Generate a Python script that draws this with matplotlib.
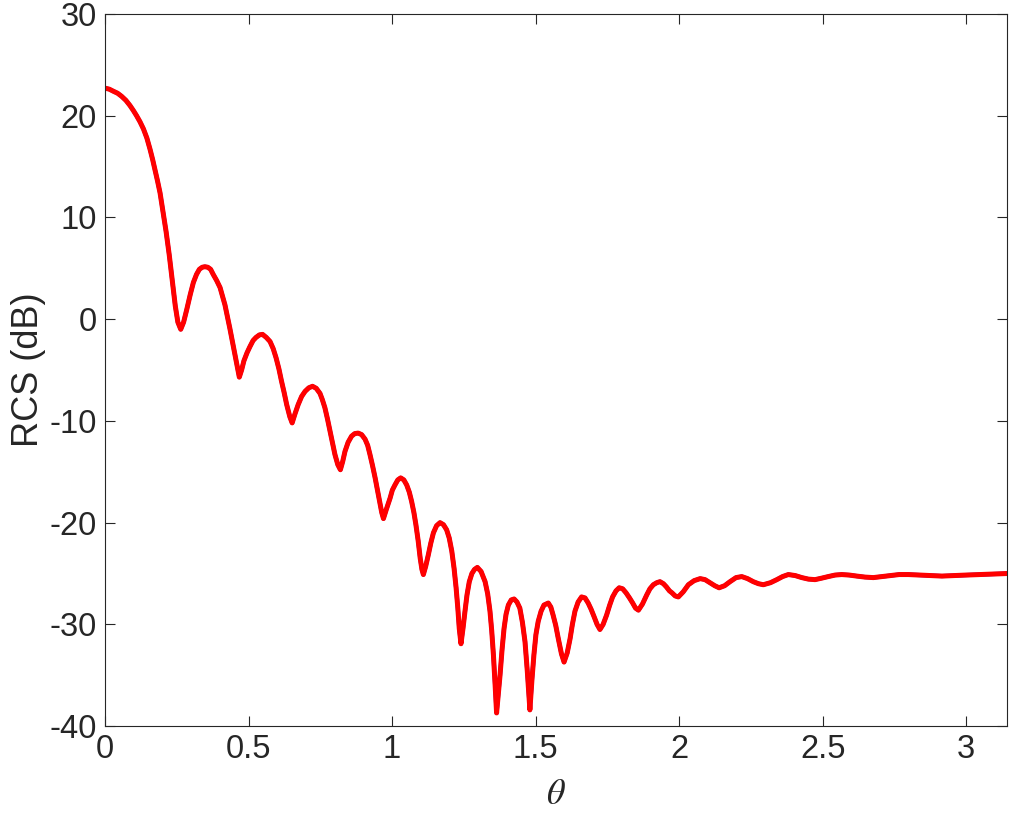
import matplotlib
matplotlib.use('Agg')
import matplotlib.pyplot as plt
import numpy as np

# RCS curve (theta in rad, RCS in dB)
theta = [0.000, 0.015, 0.029, 0.044, 0.058, 0.073, 0.087, 0.099, 0.110, 0.122,
         0.134, 0.146, 0.157, 0.166, 0.174, 0.183, 0.192, 0.202, 0.213, 0.224,
         0.235, 0.245, 0.254, 0.264,
         0.274, 0.285, 0.297, 0.308, 0.319, 0.329, 0.339, 0.348, 0.358, 0.368,
         0.377, 0.389, 0.401, 0.418, 0.435, 0.450, 0.460, 0.468,
         0.476, 0.484, 0.495, 0.505, 0.516, 0.526, 0.538, 0.549, 0.562, 0.575,
         0.586, 0.596, 0.606, 0.615, 0.624, 0.633, 0.644, 0.652,
         0.662, 0.673, 0.685, 0.697, 0.710, 0.723, 0.736, 0.749, 0.757, 0.766,
         0.775, 0.784, 0.793, 0.801, 0.811, 0.820,
         0.828, 0.836, 0.847, 0.859, 0.870, 0.882, 0.894, 0.906, 0.915, 0.923,
         0.932, 0.941, 0.949, 0.956, 0.964, 0.970,
         0.980, 0.993, 1.001, 1.010, 1.020, 1.030, 1.041, 1.051, 1.060, 1.068,
         1.076, 1.083, 1.091, 1.098, 1.104, 1.109,
         1.117, 1.126, 1.135, 1.144, 1.155, 1.167, 1.179, 1.190, 1.199, 1.208,
         1.216, 1.223, 1.229, 1.234, 1.240,
         1.247, 1.254, 1.261, 1.269, 1.278, 1.287, 1.297, 1.310, 1.324, 1.333,
         1.341, 1.347, 1.353, 1.359, 1.364,
         1.370, 1.376, 1.383, 1.390, 1.397, 1.405, 1.415, 1.425, 1.435, 1.445,
         1.454, 1.463, 1.471, 1.480,
         1.487, 1.494, 1.501, 1.509, 1.519, 1.529, 1.544, 1.553, 1.561, 1.570,
         1.579, 1.590, 1.599,
         1.610, 1.620, 1.628, 1.637, 1.648, 1.660, 1.672, 1.683, 1.693, 1.703,
         1.714, 1.724,
         1.735, 1.747, 1.758, 1.768, 1.780, 1.791, 1.803, 1.815, 1.827, 1.838,
         1.848, 1.858,
         1.872, 1.887, 1.898, 1.910, 1.922, 1.933, 1.945, 1.955, 1.966, 1.975,
         1.986, 1.997,
         2.014, 2.032, 2.052, 2.073, 2.090, 2.107, 2.124, 2.139,
         2.158, 2.177, 2.198, 2.218, 2.238, 2.258, 2.276, 2.293,
         2.318, 2.340, 2.360, 2.380, 2.404, 2.427, 2.450, 2.473,
         2.497, 2.519, 2.543, 2.566, 2.592, 2.618, 2.647, 2.676,
         2.705, 2.734, 2.766, 2.798, 2.836, 2.874, 2.915, 2.955,
         3.000, 3.048, 3.095, 3.1416]
rcs = [22.7, 22.6, 22.4, 22.2, 21.9, 21.5, 21.0, 20.5, 20.0, 19.4,
       18.7, 17.8, 16.7, 15.7, 14.7, 13.6, 12.4, 10.6, 8.6, 6.3,
       3.7, 1.3, -0.3, -1.0,
       -0.3, 0.95, 2.4, 3.6, 4.4, 4.9, 5.1, 5.15, 5.1, 4.9,
       4.4, 3.8, 3.1, 1.4, -0.9, -3.1, -4.6, -5.7,
       -5.0, -4.1, -3.3, -2.7, -2.1, -1.8, -1.55, -1.5, -1.8, -2.2,
       -2.9, -3.8, -4.9, -6.1, -7.2, -8.4, -9.6, -10.2,
       -9.3, -8.4, -7.6, -7.1, -6.75, -6.6, -6.8, -7.3, -7.9, -8.7,
       -9.8, -11.0, -12.2, -13.3, -14.3, -14.8,
       -14.0, -13.0, -12.1, -11.5, -11.25, -11.2, -11.35, -11.8, -12.4, -13.3,
       -14.4, -15.6, -16.8, -17.9, -19.0, -19.6,
       -18.7, -17.6, -16.8, -16.3, -15.8, -15.6, -15.8, -16.3, -17.0, -17.9,
       -19.0, -20.2, -21.8, -23.5, -24.6, -25.1,
       -24.3, -23.2, -22.0, -21.0, -20.3, -20.0, -20.2, -20.7, -21.5, -22.8,
       -24.5, -26.4, -28.4, -30.4, -31.9,
       -30.4, -28.7, -27.1, -25.8, -25.0, -24.6, -24.4, -24.8, -25.8, -27.0,
       -28.7, -30.6, -33.0, -36.0, -38.7,
       -36.8, -35.0, -32.5, -30.4, -29.0, -28.1, -27.6, -27.5, -27.8, -28.4,
       -29.8, -31.7, -34.6, -38.4,
       -35.5, -33.0, -31.0, -29.7, -28.7, -28.1, -27.9, -28.3, -29.1, -30.1,
       -31.4, -32.9, -33.7,
       -32.8, -31.4, -30.0, -28.7, -27.8, -27.3, -27.4, -27.9, -28.5, -29.2,
       -30.0, -30.5,
       -30.0, -29.1, -28.1, -27.3, -26.7, -26.4, -26.5, -26.9, -27.4, -27.9,
       -28.4, -28.6,
       -28.0, -27.1, -26.5, -26.1, -25.9, -25.8, -26.0, -26.3, -26.7, -26.9,
       -27.2, -27.3,
       -26.8, -26.1, -25.7, -25.5, -25.6, -25.9, -26.2, -26.4,
       -26.2, -25.8, -25.4, -25.3, -25.5, -25.8, -26.0, -26.1,
       -25.9, -25.6, -25.3, -25.1, -25.2, -25.4, -25.55, -25.6,
       -25.45, -25.3, -25.15, -25.1, -25.15, -25.25, -25.35, -25.4,
       -25.3, -25.2, -25.1, -25.1, -25.15, -25.2, -25.25, -25.2,
       -25.15, -25.1, -25.05, -25.0]

xticks = [0, 0.5, 1, 1.5, 2, 2.5, 3]
xticklabels = ['0', '0.5', '1', '1.5', '2', '2.5', '3']
yticks = [-40, -30, -20, -10, 0, 10, 20, 30]

plt.rcParams['font.family'] = ['Liberation Sans', 'DejaVu Sans']
plt.rcParams['mathtext.fontset'] = 'stix'
plt.rcParams['axes.unicode_minus'] = False

fig = plt.figure(figsize=(10.09, 8.15), dpi=100)
ax = fig.add_axes([0.104, 0.109, 0.894, 0.874])

ax.plot(theta, rcs, color='blue', linewidth=3.0, solid_joinstyle='round')
ax.plot(theta, rcs, color='red', linewidth=3.6, solid_joinstyle='round')

ax.set_xlim(0, np.pi)
ax.set_ylim(-40, 30)
ax.set_xticks(xticks)
ax.set_xticklabels(xticklabels)
ax.set_yticks(yticks)

dark = '#262626'
ax.tick_params(direction='in', length=7, width=0.8, colors=dark,
               labelsize=23.5, top=True, right=True, pad=6)
for s in ax.spines.values():
    s.set_color(dark)
    s.set_linewidth(0.8)

ax.set_xlabel(r'$\theta$', fontsize=26, color=dark, labelpad=8)
ax.set_ylabel('RCS (dB)', fontsize=26, color=dark, labelpad=2)

fig.savefig('out.png', dpi=100)
